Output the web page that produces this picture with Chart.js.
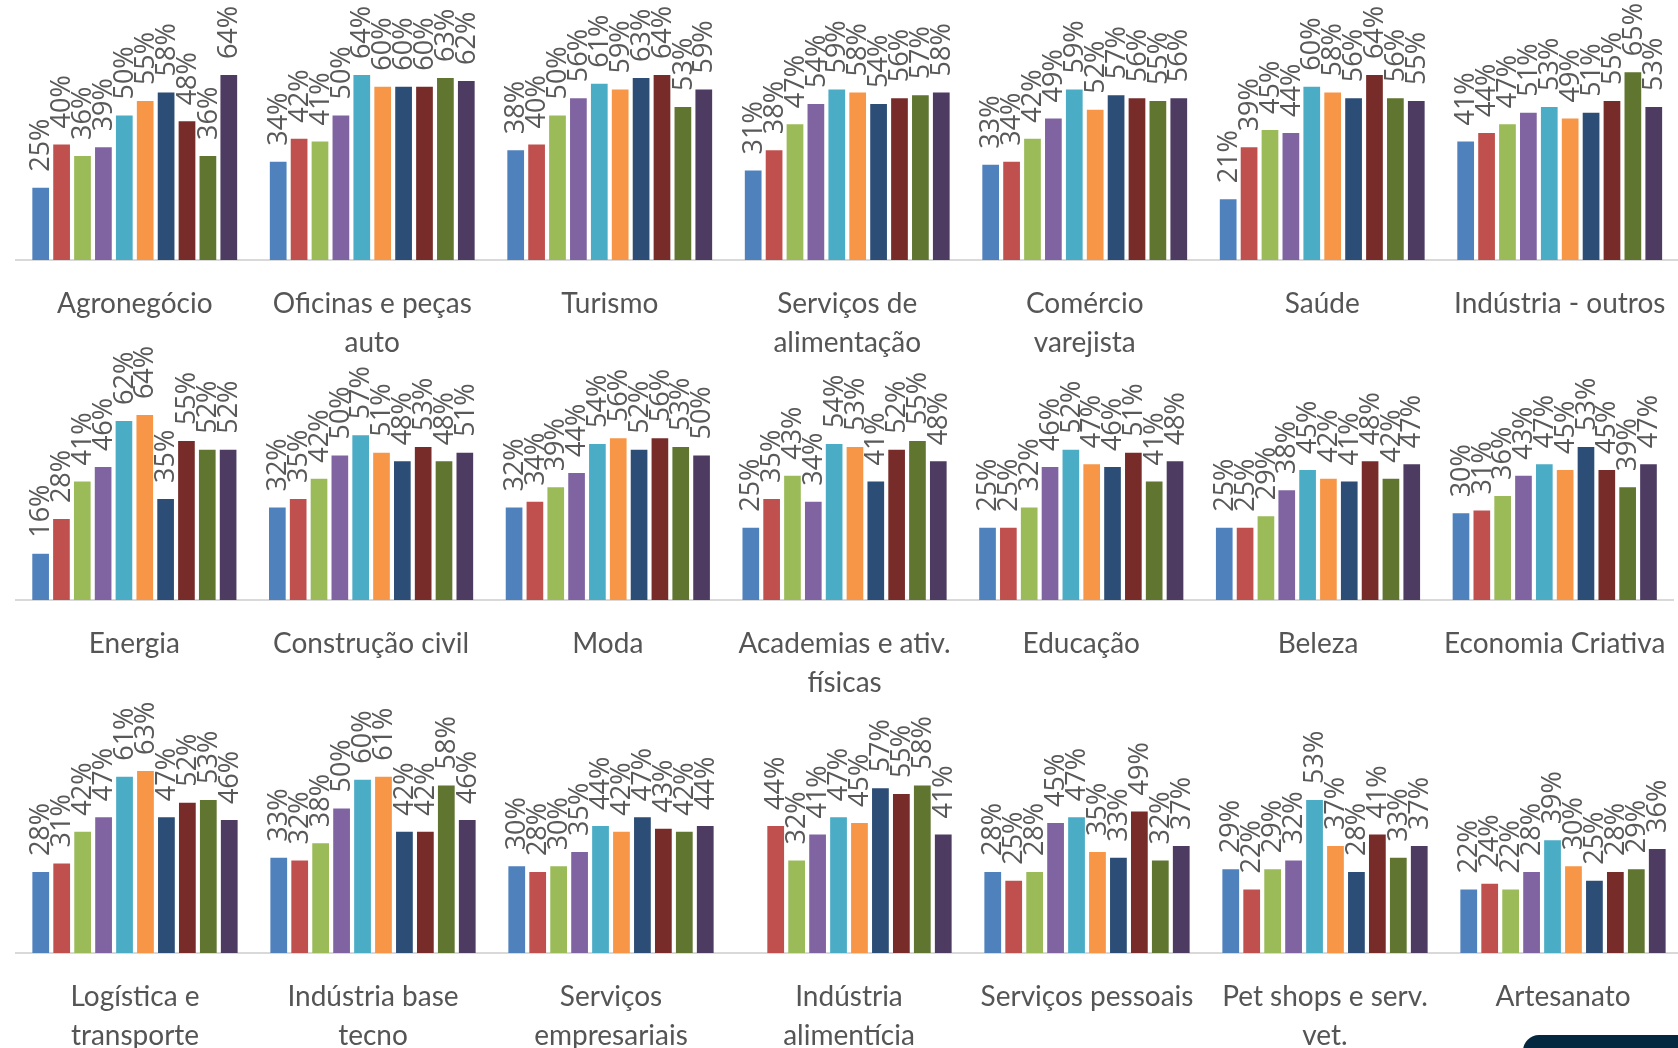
<!DOCTYPE html>
<html>
<head>
<meta charset="utf-8">
<script src="https://cdn.jsdelivr.net/npm/chart.js@4/dist/chart.umd.min.js"></script>
<style>
  html, body { margin: 0; padding: 0; background: #fff; overflow: hidden; width: 1678px; height: 1048px; }
  canvas { position: absolute; left: 0; }
  #selo { position: absolute; left: 1523px; top: 1035px; width: 200px; height: 40px; background: #04283f; border-top-left-radius: 16px; }
</style>
</head>
<body>
<canvas id="linha1" width="1690" height="360" style="top:0px"></canvas>
<canvas id="linha2" width="1690" height="360" style="top:340px"></canvas>
<canvas id="linha3" width="1690" height="360" style="top:693px"></canvas>
<div id="selo"></div>
<script>
// categorias de cada linha (rótulos com quebra)
const categorias1 = ['Agronegócio', ['Oficinas e peças', 'auto'], 'Turismo', ['Serviços de', 'alimentação'], ['Comércio', 'varejista'], 'Saúde', 'Indústria - outros'];
const categorias2 = ['Energia', 'Construção civil', 'Moda', ['Academias e ativ.', 'físicas'], 'Educação', 'Beleza', 'Economia Criativa'];
const categorias3 = [['Logística e', 'transporte'], ['Indústria base', 'tecno'], ['Serviços', 'empresariais'], ['Indústria', 'alimentícia'], 'Serviços pessoais', ['Pet shops e serv.', 'vet.'], 'Artesanato'];

// valores (%) por categoria, 10 séries em cada
const valores1 = [
  [25, 40, 36, 39, 50, 55, 58, 48, 36, 64], // Agronegócio
  [34, 42, 41, 50, 64, 60, 60, 60, 63, 62], // Oficinas
  [38, 40, 50, 56, 61, 59, 63, 64, 53, 59], // Turismo
  [31, 38, 47, 54, 59, 58, 54, 56, 57, 58], // Serv. alimentação
  [33, 34, 42, 49, 59, 52, 57, 56, 55, 56], // Comércio
  [21, 39, 45, 44, 60, 58, 56, 64, 56, 55], // Saúde
  [41, 44, 47, 51, 53, 49, 51, 55, 65, 53]  // Indústria - outros
];
const valores2 = [
  [16, 28, 41, 46, 62, 64, 35, 55, 52, 52], // Energia
  [32, 35, 42, 50, 57, 51, 48, 53, 48, 51], // Construção civil
  [32, 34, 39, 44, 54, 56, 52, 56, 53, 50], // Moda
  [25, 35, 43, 34, 54, 53, 41, 52, 55, 48], // Academias
  [25, 25, 32, 46, 52, 47, 46, 51, 41, 48], // Educação
  [25, 25, 29, 38, 45, 42, 41, 48, 42, 47], // Beleza
  [30, 31, 36, 43, 47, 45, 53, 45, 39, 47]  // Economia Criativa
];
const valores3 = [
  [28, 31, 42, 47, 61, 63, 47, 52, 53, 46], // Logística
  [33, 32, 38, 50, 60, 61, 42, 42, 58, 46], // Indústria base tecno
  [30, 28, 30, 35, 44, 42, 47, 43, 42, 44], // Serv. empresariais
  [null, 44, 32, 41, 47, 45, 57, 55, 58, 41], // Indústria alimentícia
  [28, 25, 28, 45, 47, 35, 33, 49, 32, 37], // Serv. pessoais
  [29, 22, 29, 32, 53, 37, 28, 41, 33, 37], // Pet shops
  [22, 24, 22, 28, 39, 30, 25, 28, 29, 36]  // Artesanato
];

const cores = ['#4f81bd', '#c0504d', '#9bbb59', '#8064a2', '#4bacc6', '#f79646', '#2c4d75', '#772c2a', '#5f7530', '#4d3b62'];

// rótulos verticais acima das barras
const rotulosBarras = {
  id: 'rotulosBarras',
  afterDatasetsDraw(chart) {
    const ctx = chart.ctx;
    ctx.save();
    ctx.fillStyle = '#595959';
    ctx.font = '27px "Open Sans"';
    ctx.textAlign = 'left';
    ctx.textBaseline = 'middle';
    chart.data.datasets.forEach((ds, i) => {
      const meta = chart.getDatasetMeta(i);
      meta.data.forEach((bar, j) => {
        const v = ds.data[j];
        if (v === null || v === undefined) return;
        ctx.save();
        ctx.translate(bar.x + 1, bar.y - 16);
        ctx.rotate(-Math.PI / 2);
        ctx.fillText(v + '%', 0, 0);
        ctx.restore();
      });
    });
    ctx.restore();
  }
};

function desenhar(id, categorias, valores) {
  const datasets = cores.map((cor, s) => ({
    label: 'Série ' + (s + 1),
    data: valores.map(linha => linha[s]),
    backgroundColor: cor,
    borderWidth: 0,
    categoryPercentage: 0.88,
    barPercentage: 0.8
  }));

  new Chart(document.getElementById(id).getContext('2d'), {
    type: 'bar',
    data: { labels: categorias, datasets: datasets },
    options: {
      responsive: false,
      animation: false,
      layout: { padding: { left: 16, right: 8, top: 0, bottom: 0 } },
      plugins: { legend: { display: false }, tooltip: { enabled: false } },
      scales: {
        x: {
          grid: { display: false, drawTicks: false },
          border: { display: true, color: '#d9d9d9', width: 2 },
          ticks: {
            color: '#555555',
            font: { family: 'Lato', size: 28, lineHeight: 1.4 },
            padding: 24,
            autoSkip: false,
            maxRotation: 0,
            minRotation: 0
          },
          afterFit(scale) { scale.height = 100; }
        },
        y: {
          display: false,
          min: 0,
          max: 90
        }
      }
    },
    plugins: [rotulosBarras]
  });
}

desenhar('linha1', categorias1, valores1);
desenhar('linha2', categorias2, valores2);
desenhar('linha3', categorias3, valores3);
</script>
</body>
</html>
